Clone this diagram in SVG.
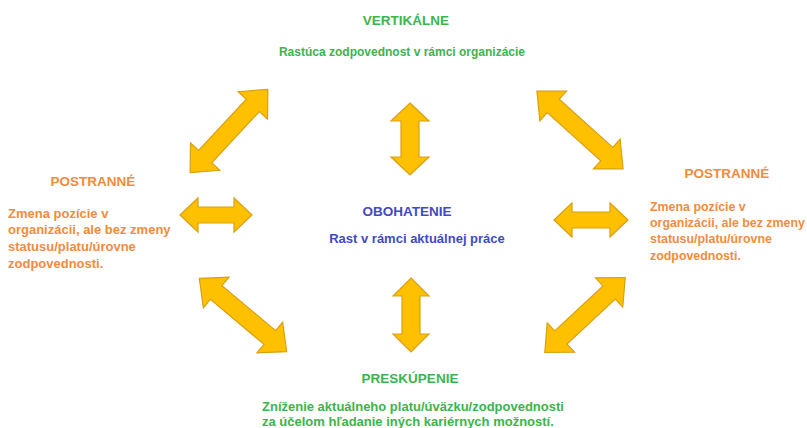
<svg xmlns="http://www.w3.org/2000/svg" width="807" height="428" viewBox="0 0 807 428">
<style>
  text { font-family: "Liberation Sans", Arial, sans-serif; font-weight: bold; }
  .h { font-size: 13.5px; }
  .b { font-size: 13px; }
  .s { font-size: 12.4px; }
  .t { font-size: 12px; }
  .green { fill: #3DB34C; }
  .orange { fill: #F28B3E; }
  .blue { fill: #4149C4; }
  .arr { fill: #FFC000; stroke: #D9A010; stroke-width: 1.2; stroke-linejoin: miter; }
</style>
<rect width="807" height="428" fill="#FFFFFF"/>
<g id="connectors">
  <polygon class="arr" transform="translate(229,131) rotate(-47)" points="-57,0 -35,-20 -35,-9 35,-9 35,-20 57,0 35,20 35,9 -35,9 -35,20"/>
  <polygon class="arr" transform="translate(580,130) rotate(42)" points="-58,0 -36,-20 -36,-9 36,-9 36,-20 58,0 36,20 36,9 -36,9 -36,20"/>
  <polygon class="arr" transform="translate(243,315) rotate(40)" points="-57,0 -35,-20 -35,-9 35,-9 35,-20 57,0 35,20 35,9 -35,9 -35,20"/>
  <polygon class="arr" transform="translate(585,315) rotate(-43)" points="-55,0 -33,-20 -33,-9 33,-9 33,-20 55,0 33,20 33,9 -33,9 -33,20"/>
  <polygon class="arr" transform="translate(410,139) rotate(90)" points="-36,0 -18,-19 -18,-9 18,-9 18,-19 36,0 18,19 18,9 -18,9 -18,19"/>
  <polygon class="arr" transform="translate(411,315) rotate(90)" points="-37,0 -19,-18 -19,-9 19,-9 19,-18 37,0 19,18 19,9 -19,9 -19,18"/>
  <polygon class="arr" transform="translate(216,215)" points="-36,0 -18,-17 -18,-8 18,-8 18,-17 36,0 18,17 18,8 -18,8 -18,17"/>
  <polygon class="arr" transform="translate(591,220)" points="-37,0 -19,-17 -19,-8 19,-8 19,-17 37,0 19,17 19,8 -19,8 -19,17"/>
</g>
<g id="vertikalne">
  <text class="h green" x="406" y="25" text-anchor="middle">VERTIKÁLNE</text>
  <text class="t green" x="402" y="56" text-anchor="middle">Rastúca zodpovednost v rámci organizácie</text>
</g>
<g id="postranne-left">
  <text class="h orange" x="93" y="186" text-anchor="middle">POSTRANNÉ</text>
  <text class="b orange" x="8" y="218">Zmena pozície v</text>
  <text class="b orange" x="8" y="234">organizácii, ale bez zmeny</text>
  <text class="b orange" x="8" y="251">statusu/platu/úrovne</text>
  <text class="b orange" x="8" y="268">zodpovednosti.</text>
</g>
<g id="postranne-right">
  <text class="h orange" x="727" y="178" text-anchor="middle">POSTRANNÉ</text>
  <text class="s orange" x="650" y="211">Zmena pozície v</text>
  <text class="s orange" x="650" y="227">organizácii, ale bez zmeny</text>
  <text class="s orange" x="650" y="243">statusu/platu/úrovne</text>
  <text class="s orange" x="650" y="260">zodpovednosti.</text>
</g>
<g id="obohatenie">
  <text class="h blue" x="407" y="216" text-anchor="middle">OBOHATENIE</text>
  <text class="b blue" x="417" y="243" text-anchor="middle">Rast v rámci aktuálnej práce</text>
</g>
<g id="preskupenie">
  <text class="h green" x="410" y="383" text-anchor="middle">PRESKÚPENIE</text>
  <text class="b green" x="262" y="411">Zníženie aktuálneho platu/úväzku/zodpovednosti</text>
  <text class="b green" x="262" y="426">za účelom hľadanie iných kariérnych možností.</text>
</g>
</svg>
